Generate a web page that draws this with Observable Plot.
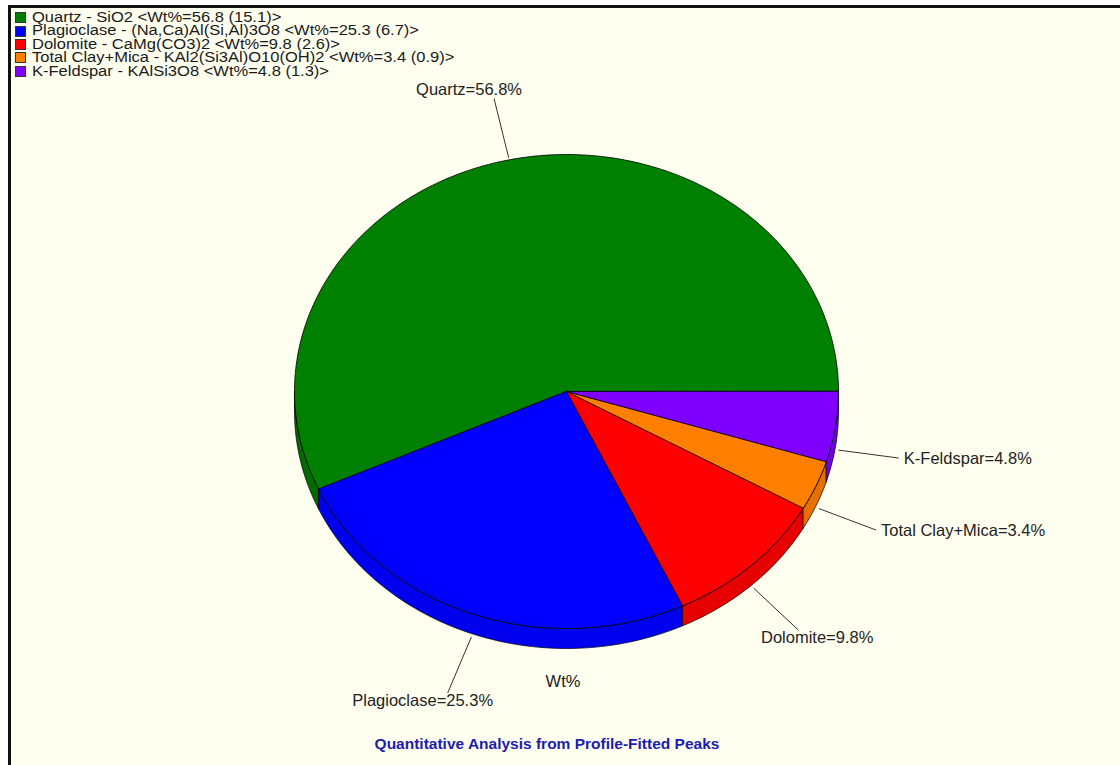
<!DOCTYPE html>
<html><head><meta charset="utf-8">
<script src="https://cdn.jsdelivr.net/npm/d3@7"></script>
<script src="https://cdn.jsdelivr.net/npm/@observablehq/plot@0.6"></script>
<style>
html,body{margin:0;padding:0;background:#fff;width:1120px;height:765px;overflow:hidden;font-family:"Liberation Sans",Arial,sans-serif;}
#panel{position:absolute;left:8px;top:5px;width:1112px;height:760px;border-left:3px solid #111;border-top:3px solid #111;background:#FFFFF0;}
#chart{position:absolute;left:0;top:0;}
#legend{position:absolute;left:15px;top:11px;font-size:14px;line-height:13.4px;color:#1a1a1a;}
.row{display:flex;align-items:center;height:13.4px;white-space:nowrap;}
.sw{width:9px;height:9px;border:1px solid #333;margin-right:6px;flex:none;}
.row span{display:inline-block;transform:scaleX(1.18);transform-origin:0 50%;}
.cap{position:absolute;transform:translate(-50%,-50%);white-space:nowrap;}
#wt{left:563px;top:681px;font-size:16.5px;color:#222;}
#title{left:547px;top:744px;font-size:15.5px;font-weight:bold;color:#1c1cae;}
</style></head>
<body>
<div id="panel"></div>
<div id="chart"></div>
<div id="legend"></div>
<div id="wt" class="cap">Wt%</div>
<div id="title" class="cap">Quantitative Analysis from Profile-Fitted Peaks</div>
<script>
// ---- data ----
const minerals = ["Quartz", "Plagioclase", "Dolomite", "Total Clay+Mica", "K-Feldspar"];
const formulas = ["SiO2", "(Na,Ca)Al(Si,Al)3O8", "CaMg(CO3)2", "KAl2(Si3Al)O10(OH)2", "KAlSi3O8"];
const wtPercent = [56.8, 25.3, 9.8, 3.4, 4.8];
const wtError = [15.1, 6.7, 2.6, 0.9, 1.3];
const topColors = ["#008000", "#0000ff", "#ff0000", "#ff8000", "#8000ff"];
const sideColors = ["#006c00", "#0000ee", "#e60000", "#e67000", "#7000e6"];

// ---- legend ----
const legend = document.getElementById("legend");
minerals.forEach((m, i) => {
  const row = document.createElement("div"); row.className = "row";
  const sw = document.createElement("div"); sw.className = "sw"; sw.style.background = topColors[i];
  const t = document.createElement("span");
  t.textContent = `${m} - ${formulas[i]} <Wt%=${wtPercent[i]} (${wtError[i]})>`;
  row.appendChild(sw); row.appendChild(t); legend.appendChild(row);
});

// ---- pie geometry (layout) ----
const cx = 566, cy = 391, rx = 272, ry = 237, depth = 20;
const total = d3.sum(wtPercent);
const rad = Math.PI / 180;
const pt = (a, dy = 0) => ({x: cx + rx * Math.cos(a * rad), y: cy - ry * Math.sin(a * rad) + dy});
const arc = (a0, a1, dy = 0) => {
  const n = Math.max(2, Math.ceil(Math.abs(a1 - a0)));
  return d3.range(n + 1).map(k => pt(a0 + (a1 - a0) * k / n, dy));
};

let cum = 0;
const slices = wtPercent.map((v, i) => {
  const a0 = cum / total * 360; cum += v; const a1 = cum / total * 360;
  return {i, a0, a1};
});

const marks = [];
// side walls (front half: 180..360)
slices.forEach(s => {
  const a = Math.max(s.a0, 180), b = Math.min(s.a1, 360);
  if (a < b) {
    const pts = [...arc(a, b), ...arc(b, a, depth)];
    marks.push(Plot.line(pts, {x: "x", y: "y", fill: sideColors[s.i], stroke: "#000", strokeWidth: 0.7, curve: "linear-closed"}));
  }
});
// top faces
slices.forEach(s => {
  const pts = [{x: cx, y: cy}, ...arc(s.a0, s.a1)];
  marks.push(Plot.line(pts, {x: "x", y: "y", fill: topColors[s.i], stroke: "#000", strokeWidth: 0.8, curve: "linear-closed"}));
});

// labels
const labels = slices.map(s => {
  const m = (s.a0 + s.a1) / 2, c = Math.cos(m * rad), sn = Math.sin(m * rad);
  const e = pt(m);
  const front = sn < 0;
  const sx = e.x + c * 3, sy = front ? e.y + depth + 3 : e.y - 2;
  const dx = rx * c, dy = -ry * sn, L = Math.hypot(dx, dy), len = 61;
  const ex = sx + len * dx / L, ey = sy + len * dy / L;
  let anchor, tx, ty;
  if (Math.abs(c) > 0.85) { anchor = c > 0 ? "start" : "end"; tx = ex + (c > 0 ? 5 : -5); ty = ey + 1; }
  else { anchor = "middle"; tx = ex + (c > 0 ? 19 : -25); ty = ey + (front ? 8 : -9); }
  return {sx, sy, ex, ey, tx, ty, anchor, text: `${minerals[s.i]}=${wtPercent[s.i]}%`};
});
marks.push(Plot.link(labels, {x1: "sx", y1: "sy", x2: "ex", y2: "ey", stroke: "#333", strokeWidth: 1}));
["start", "middle", "end"].forEach(an => {
  marks.push(Plot.text(labels.filter(d => d.anchor === an), {
    x: "tx", y: "ty", text: "text", textAnchor: an, fontSize: 16.5, fill: "#222",
    fontFamily: "Liberation Sans, Arial, sans-serif"
  }));
});

const chart = Plot.plot({
  width: 1120, height: 765, margin: 0,
  x: {domain: [0, 1120], range: [0, 1120], axis: null},
  y: {domain: [0, 765], range: [0, 765], axis: null},
  style: {background: "transparent", overflow: "visible"},
  marks
});
document.getElementById("chart").appendChild(chart);
</script>
</body></html>
